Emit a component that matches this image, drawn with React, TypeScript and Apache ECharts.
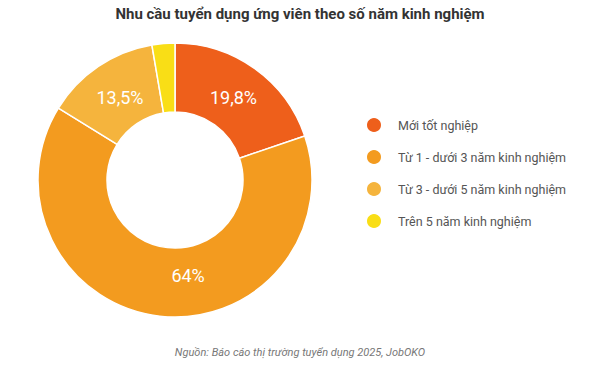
import React, { useEffect, useRef } from "react";
import * as echarts from "echarts";

const categories = [
  "Mới tốt nghiệp",
  "Từ 1 - dưới 3 năm kinh nghiệm",
  "Từ 3 - dưới 5 năm kinh nghiệm",
  "Trên 5 năm kinh nghiệm",
];
const values = [19.8, 64, 13.5, 2.7];
const valueLabels = ["19,8%", "64%", "13,5%", ""];
const colors = ["#EE5F1B", "#F39B1F", "#F5B43D", "#F9DE16"];
const title = "Nhu cầu tuyển dụng ứng viên theo số năm kinh nghiệm";
const source = "Nguồn: Báo cáo thị trường tuyển dụng 2025, JobOKO";

// small label nudges (styling only)
const labelShift: [number, number][] = [
  [-3, 3],
  [25, -9],
  [4, 5],
  [0, 0],
];

export default function App() {
  const ref = useRef<HTMLDivElement>(null);
  useEffect(() => {
    document.body.style.margin = "0";
    const chart = echarts.init(ref.current!, null, { renderer: "svg" });
    chart.setOption({
      animation: false,
      backgroundColor: "#ffffff",
      title: [
        {
          text: title,
          left: "center",
          top: 1,
          textStyle: {
            fontFamily: "Roboto",
            fontSize: 15,
            fontWeight: "bold",
            color: "#333333",
          },
        },
        {
          text: source,
          left: "center",
          top: 342,
          textStyle: {
            fontFamily: "Roboto",
            fontSize: 11,
            fontStyle: "italic",
            fontWeight: "normal",
            color: "#777777",
          },
        },
      ],
      legend: {
        orient: "vertical",
        left: 360,
        top: 111,
        icon: "circle",
        itemWidth: 16,
        itemHeight: 16,
        itemGap: 14,
        textStyle: {
          fontFamily: "Roboto",
          fontSize: 12.5,
          color: "#555555",
          padding: [0, 0, 0, 11],
        },
        data: categories,
      },
      series: [
        {
          type: "pie",
          center: [175, 180],
          radius: [68, 137],
          startAngle: 90,
          clockwise: true,
          itemStyle: { borderColor: "#ffffff", borderWidth: 1.5 },
          label: {
            show: true,
            position: "inside",
            color: "#ffffff",
            fontFamily: "Roboto",
            fontSize: 18,
            formatter: (p: any) => valueLabels[p.dataIndex],
          },
          labelLayout: (p: any) => ({
            dx: labelShift[p.dataIndex][0],
            dy: labelShift[p.dataIndex][1],
          }),
          labelLine: { show: false },
          emphasis: { disabled: true },
          data: categories.map((name, i) => ({
            name,
            value: values[i],
            itemStyle: { color: colors[i] },
          })),
        },
      ],
    });
    return () => chart.dispose();
  }, []);
  return <div ref={ref} style={{ width: 600, height: 377 }} />;
}
